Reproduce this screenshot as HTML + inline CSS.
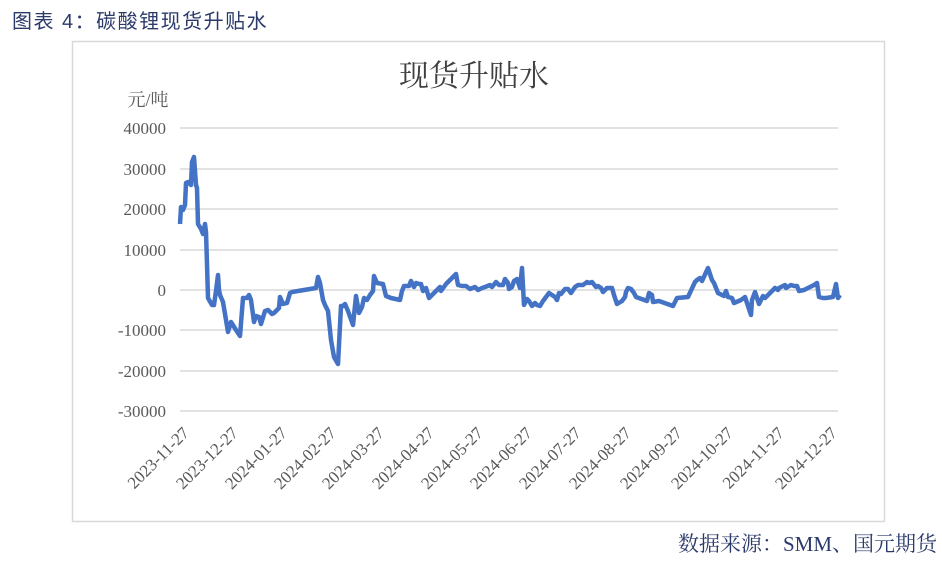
<!DOCTYPE html>
<html><head><meta charset="utf-8"><style>
body{margin:0;background:#fff;width:942px;height:561px;overflow:hidden;position:relative}
.h{position:absolute;left:12px;top:5px;font:20px "Liberation Sans","Noto Sans CJK SC",sans-serif;color:#2b3a6b;letter-spacing:1.5px}
.s{position:absolute;right:5px;top:528px;font:21px "Liberation Serif","Noto Serif CJK SC",serif;color:#2b3a6b}
</style></head><body>
<div class="h">图表 4：碳酸锂现货升贴水</div>
<svg width="942" height="561" style="position:absolute;left:0;top:0" font-family="'Liberation Serif','Noto Serif CJK SC',serif">
<rect x="72.5" y="41.5" width="812" height="480" fill="none" stroke="#d9d9d9" stroke-width="1.5"/>
<text x="474" y="86" text-anchor="middle" font-size="30" fill="#404040">现货升贴水</text>
<text x="148" y="106" text-anchor="middle" font-size="18" fill="#595959">元/吨</text>
<g stroke="#d9d9d9" stroke-width="1.5">
<line x1="180" x2="838" y1="128" y2="128"/><line x1="180" x2="838" y1="169" y2="169"/><line x1="180" x2="838" y1="209" y2="209"/><line x1="180" x2="838" y1="250" y2="250"/><line x1="180" x2="838" y1="290" y2="290"/><line x1="180" x2="838" y1="330" y2="330"/><line x1="180" x2="838" y1="371" y2="371"/><line x1="180" x2="838" y1="411" y2="411"/>
</g>
<g font-size="17" fill="#595959" text-anchor="end">
<text x="166" y="134">40000</text><text x="166" y="175">30000</text><text x="166" y="215">20000</text><text x="166" y="256">10000</text><text x="166" y="296">0</text><text x="166" y="336">-10000</text><text x="166" y="377">-20000</text><text x="166" y="417">-30000</text>
</g>
<g font-size="17" fill="#595959" text-anchor="end">
<text transform="translate(190,434) rotate(-45)">2023-11-27</text>
<text transform="translate(239,434) rotate(-45)">2023-12-27</text>
<text transform="translate(288,434) rotate(-45)">2024-01-27</text>
<text transform="translate(337,434) rotate(-45)">2024-02-27</text>
<text transform="translate(385,434) rotate(-45)">2024-03-27</text>
<text transform="translate(435,434) rotate(-45)">2024-04-27</text>
<text transform="translate(484,434) rotate(-45)">2024-05-27</text>
<text transform="translate(533,434) rotate(-45)">2024-06-27</text>
<text transform="translate(582,434) rotate(-45)">2024-07-27</text>
<text transform="translate(632,434) rotate(-45)">2024-08-27</text>
<text transform="translate(683,434) rotate(-45)">2024-09-27</text>
<text transform="translate(734,434) rotate(-45)">2024-10-27</text>
<text transform="translate(785,434) rotate(-45)">2024-11-27</text>
<text transform="translate(838,434) rotate(-45)">2024-12-27</text>
</g>
<polyline fill="none" stroke="#4472C4" stroke-width="4.5" stroke-linejoin="round" points="180,224 181,207 183,210 185,205 186,183 188,182 191,185 192,162 194,157 196,185 197,188 198,224 201,229 203,234 205,224 206,232 207,264 208,298 212,305 214,305 216,291 218,275 219,290 220,295 223,302 228,332 231,322 236,330 240,336 243,298 247,298 249,295 251,300 254,322 256,316 259,317 261,324 265,311 268,310 272,314 274,313 276,311 279,308 280,297 283,304 287,303 290,293 292,292 304,290 316,288 318,277 320,283 323,300 325,305 328,311 331,340 334,357 338,364 341,306 343,306 345,304 348,311 353,325 356,296 359,313 362,307 364,298 367,300 370,295 373,291 374,276 377,283 383,284 386,296 391,298 400,300 402,291 404,286 409,286 411,281 414,287 416,283 419,284 421,284 423,291 426,288 429,298 433,294 440,287 441,291 446,284 449,281 453,277 456,274 458,285 462,286 466,286 470,289 475,287 478,290 482,288 485,287 490,285 492,287 496,282 499,285 503,285 505,279 508,283 509,289 512,287 514,281 517,279 520,288 522,268 524,305 527,299 529,301 532,306 535,303 537,305 540,306 543,301 546,297 549,293 552,295 555,297 557,300 559,293 561,294 565,289 568,289 571,293 575,287 578,285 583,285 587,282 589,283 592,282 596,287 598,286 601,288 603,292 607,288 612,288 614,295 617,304 622,301 625,297 626,292 628,288 631,289 634,293 636,297 647,301 649,293 652,295 653,302 659,301 673,306 677,298 688,297 695,282 697,280 700,278 702,281 708,268 712,280 714,283 718,293 724,296 726,291 728,297 732,298 734,303 741,300 745,297 751,315 752,300 755,292 759,304 763,296 765,298 775,288 778,290 779,288 785,285 786,288 791,285 794,286 797,286 799,291 804,290 808,288 814,285 817,283 819,297 823,298 826,298 833,297 836,284 838,298 840,295"/>
</svg>
<div class="s">数据来源：SMM、国元期货</div>
</body></html>
